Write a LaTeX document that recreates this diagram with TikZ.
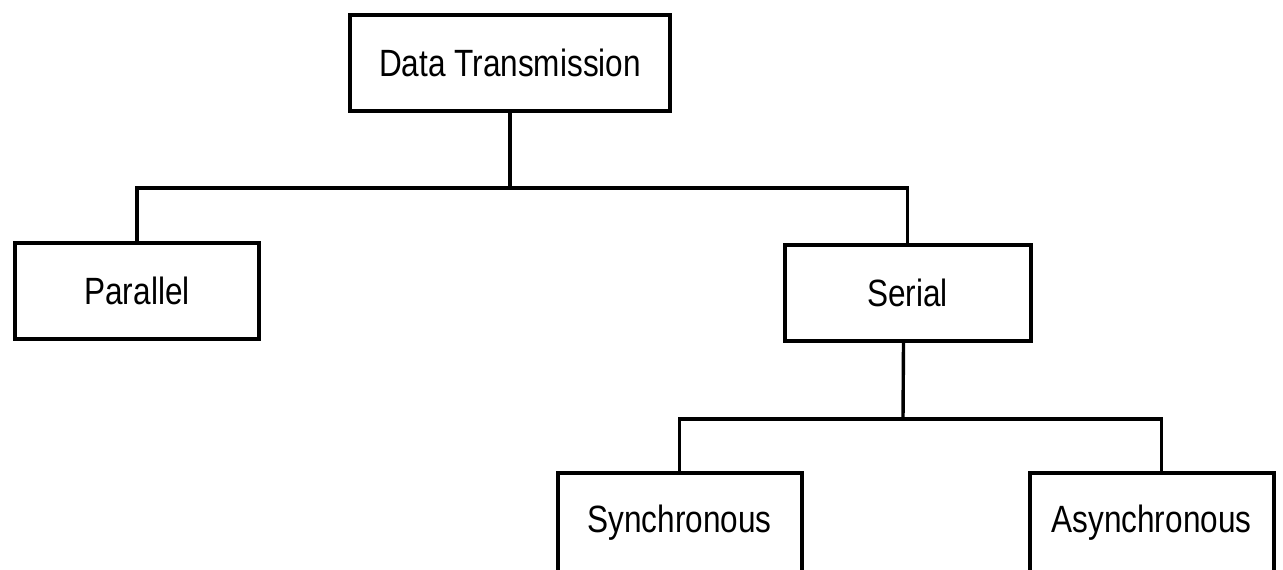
\documentclass[tikz,border=0pt]{standalone}
\usepackage{fontspec}
\setmainfont{Liberation Sans}
\newcommand{\boxtext}[1]{\scalebox{0.83}[1]{#1}}
\tikzset{
  blockbox/.style={draw,line width=4pt,minimum height=96pt,font=\fontsize{38}{44}\selectfont},
  link/.style={line width=3.4pt}
}
\begin{document}
\begin{tikzpicture}[x=1pt,y=-1pt]
\useasboundingbox (0,0) rectangle (1283,570);
\node[blockbox,minimum width=320pt] (dt) at (510,63) {\boxtext{Data Transmission}};
\node[blockbox,minimum width=244pt] (par) at (137,291) {\boxtext{Parallel}};
\node[blockbox,minimum width=246pt] (ser) at (907.5,293) {\boxtext{Serial}};
\node[blockbox,minimum width=244pt,minimum height=100pt] (syn) at (679.5,523) {\boxtext{Synchronous}};
\node[blockbox,minimum width=244pt,minimum height=100pt] (asyn) at (1151.5,523) {\boxtext{Asynchronous}};
\coordinate (j1) at (510,188);
\coordinate (j2) at (903,419);
\draw[link] (dt.south) -- (j1);
\draw[link] (par.north) |- (j1) -| (ser.north);
\draw[link] ([xshift=-4pt]ser.south) -- (j2);
\draw[link] (syn.north) |- (j2) -| ([xshift=10pt]asyn.north);
\end{tikzpicture}
\end{document}
